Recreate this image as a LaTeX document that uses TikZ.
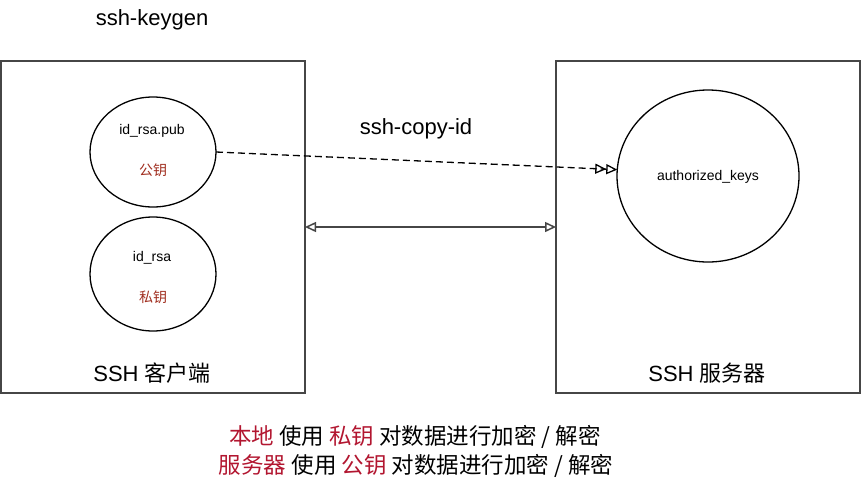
\documentclass[tikz,border=0pt]{standalone}
\usepackage{fontspec}
\setmainfont{Liberation Sans}
\newfontfamily\cjk{Noto Sans CJK SC}
\usepackage{xcolor}
\usepackage{tikz}
\usetikzlibrary{arrows.meta}
\usetikzlibrary{shapes.geometric}
\definecolor{keyred}{RGB}{178,22,48}
\definecolor{softred}{RGB}{160,45,30}
\definecolor{boxgray}{RGB}{70,70,70}

\begin{document}
\begin{tikzpicture}[x=1pt,y=-1pt,
    hostbox/.style={draw=boxgray,line width=1.8pt,minimum width=304pt,minimum height=332pt,inner sep=0pt,outer sep=0pt},
    keyfile/.style={draw,ellipse,line width=1.3pt,inner sep=0pt,outer sep=0pt},
    big/.style={font=\fontsize{22}{26}\selectfont},
    note/.style={font=\fontsize{22.5}{26}\selectfont},
    small/.style={font=\fontsize{14}{16}\selectfont},
    copyarrow/.style={-{Triangle[open,length=11pt,width=10pt]Triangle[open,length=11pt,width=10pt]}},
    linkarrow/.style={{Triangle[open,length=11pt,width=10pt]}-{Triangle[open,length=11pt,width=10pt]}}]
    \useasboundingbox (0,0) rectangle (861,488);
    \node[big] (keygen) at (152,20) {ssh-keygen};
    \node[hostbox] (client) at (153,227) {};
    \node[hostbox] (server) at (708,227) {};
    \node[keyfile,minimum width=126pt,minimum height=110pt] (pub) at (153,152) {};
    \node[keyfile,minimum width=126pt,minimum height=114pt] (priv) at (153,274) {};
    \node[keyfile,minimum width=182pt,minimum height=172pt] (auth) at (708,176) {};
    \node[small] (pubname) at (152,131) {id\_rsa.pub};
    \node[small,text=softred] (pubtag) at (153,170) {\cjk 公钥};
    \node[small] (privname) at (152,258) {id\_rsa};
    \node[small,text=softred] (privtag) at (153,297) {\cjk 私钥};
    \node[small] (authname) at (708,177) {authorized\_keys};
    \node[big] (copyid) at (416,129) {ssh-copy-id};
    \node[big] (clientname) at (152,373) {SSH {\cjk 客户端}};
    \node[big] (servername) at (707,373) {SSH {\cjk 服务器}};
    \node[note] (line1) at (415,437) {\cjk {\color{keyred}本地} 使用 {\color{keyred}私钥} 对数据进行加密 / 解密};
    \node[note] (line2) at (416,466) {\cjk {\color{keyred}服务器} 使用 {\color{keyred}公钥} 对数据进行加密 / 解密};
    % connectors
    \draw[line width=1.3pt,dash pattern=on 7pt off 4pt,copyarrow] (pub.east) -- (auth.176);
    \draw[line width=1.5pt,color=boxgray,linkarrow] (client.east) -- (server.west);
\end{tikzpicture}
\end{document}
